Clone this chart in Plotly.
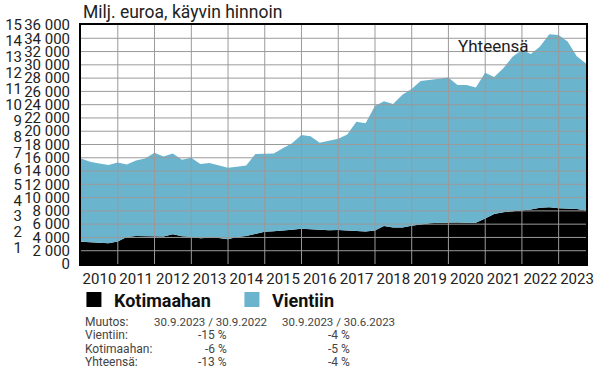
import plotly.graph_objects as go

# Quarter-end dates 31.12.2009 ... 30.9.2023
quarters = []
for yr in range(2009, 2024):
    for md in ["03-31", "06-30", "09-30", "12-31"]:
        d = f"{yr}-{md}"
        if "2009-12-31" <= d <= "2023-09-30":
            quarters.append(d)

kotimaahan = [3350, 3280, 3180, 3120, 3400, 4050, 4200, 4220, 4200, 4150,
              4500, 4180, 4120, 3880, 3950, 3900, 3720, 4050, 4200, 4550,
              4850, 4950, 5020, 5150, 5320, 5240, 5080, 5080, 5120, 5060,
              5020, 4900, 5050, 5720, 5480, 5500, 5750, 5950, 6120, 6230,
              6270, 6240, 6220, 6220, 6850, 7550, 7800, 7950, 8130, 8200,
              8480, 8550, 8400, 8350, 8300, 8050]
vientiin = [12550, 12120, 11970, 11780, 11900, 10950, 11400, 11680, 12550, 12050,
            12150, 11520, 11880, 11170, 11250, 11000, 10780, 10600, 10650, 12010,
            11800, 11700, 12430, 13020, 14110, 14010, 13170, 13420, 13730, 14440,
            16410, 16300, 18750, 18780, 18620, 20000, 20600, 21610, 21580, 21670,
            21830, 20720, 20740, 20380, 21950, 20600, 21700, 23270, 24100, 23430,
            24270, 26050, 26100, 25150, 23000, 22150]

y_ticks = list(range(0, 36001, 2000))
y_ticklabels = [f"{v:,}".replace(",", " ") for v in y_ticks]
index_ticks = list(range(1, 16))
grid_years = list(range(2011, 2024))

table_rows = ["Muutos:", "Vientiin:", "Kotimaahan:", "Yhteensä:"]
col_yoy = ["30.9.2023 / 30.9.2022", "-15 %", "-6 %", "-13 %"]
col_qoq = ["30.9.2023 / 30.6.2023", "-4 %", "-5 %", "-4 %"]

BLUE = "#6ab4ce"
FONT = "Roboto"

fig = go.Figure()
fig.add_trace(go.Scatter(x=quarters, y=kotimaahan, stackgroup="one", mode="lines",
                         line=dict(width=0, color="black"), fillcolor="black",
                         showlegend=False, hoverinfo="skip"))
fig.add_trace(go.Scatter(x=quarters, y=vientiin, stackgroup="one", mode="lines",
                         line=dict(width=0, color=BLUE), fillcolor=BLUE,
                         showlegend=False, hoverinfo="skip"))
# legend entries
fig.add_trace(go.Scatter(x=[None], y=[None], yaxis="y2", mode="markers", name="Kotimaahan",
                         marker=dict(symbol="square", size=15, color="black")))
fig.add_trace(go.Scatter(x=[None], y=[None], yaxis="y2", mode="markers", name="Vientiin",
                         marker=dict(symbol="square", size=15, color=BLUE)))

# gridlines above the areas
for yr in grid_years:
    fig.add_shape(type="line", xref="x", yref="paper", x0=f"{yr}-01-01", x1=f"{yr}-01-01",
                  y0=0, y1=1, line=dict(color="#9a9a9a", width=1), layer="above")
for v in y_ticks[1:-1]:
    fig.add_shape(type="line", xref="paper", yref="y", x0=0, x1=1, y0=v, y1=v,
                  line=dict(color="#9a9a9a", width=1), layer="above")

fig.update_layout(
    width=605, height=371,
    margin=dict(l=81, r=19, t=25, b=107),
    paper_bgcolor="white", plot_bgcolor="white",
    font=dict(family=FONT, color="#222"),
    showlegend=True,
    legend=dict(orientation="h", x=-0.014, xanchor="left", y=-0.15, yanchor="middle",
                traceorder="normal",
                font=dict(family=FONT, size=18, color="#111", weight="bold"),
                itemclick=False, bgcolor="rgba(0,0,0,0)", entrywidth=113),
    xaxis=dict(type="date", range=["2009-12-31", "2023-09-30"], dtick="M12",
               tick0="2010-01-01", ticklabelmode="period", tickformat="%Y",
               showgrid=False, showline=True, linecolor="black", linewidth=2,
               mirror=True, ticks="", tickfont=dict(size=15, family=FONT, color="#222"),
               automargin=False, fixedrange=True),
    yaxis=dict(range=[0, 36000], tickvals=y_ticks, ticktext=y_ticklabels,
               showgrid=False, showline=True, linecolor="black", linewidth=2,
               mirror=True, ticks="", ticklabelstandoff=6,
               tickfont=dict(size=15, family=FONT, color="#222"),
               automargin=False, fixedrange=True, zeroline=False),
    yaxis2=dict(overlaying="y", side="left", range=[0, 15], tickvals=index_ticks,
                showgrid=False, showline=False, ticks="", ticklabelstandoff=58,
                tickfont=dict(size=15, family=FONT, color="#222"),
                automargin=False, fixedrange=True, zeroline=False),
)

fig.add_annotation(text="Milj. euroa, käyvin hinnoin", xref="paper", yref="paper",
                   x=0, y=1, xanchor="left", yanchor="bottom", yshift=1, showarrow=False,
                   font=dict(size=17.5, family=FONT, color="#222"))
fig.add_annotation(text="Yhteensä", xref="x", yref="y", x="2021-03-26", y=32800,
                   showarrow=False, font=dict(size=17, family=FONT, color="#222"))

row_y0 = 321.5
row_dy = 13.6
for i, (lab, a, b) in enumerate(zip(table_rows, col_yoy, col_qoq)):
    yy = 1 - (row_y0 + i * row_dy - 25) / 239
    fig.add_annotation(text=lab, xref="paper", yref="paper", x=(83 - 81) / 505, y=yy,
                       xanchor="left", yanchor="middle", showarrow=False,
                       font=dict(size=12, family=FONT, color="#444"))
    if i == 0:
        fig.add_annotation(text=a, xref="paper", yref="paper", x=(211 - 81) / 505, y=yy,
                           xanchor="center", yanchor="middle", showarrow=False,
                           font=dict(size=11.5, family=FONT, color="#444"))
        fig.add_annotation(text=b, xref="paper", yref="paper", x=(338 - 81) / 505, y=yy,
                           xanchor="center", yanchor="middle", showarrow=False,
                           font=dict(size=11.5, family=FONT, color="#444"))
    else:
        fig.add_annotation(text=a, xref="paper", yref="paper", x=(229 - 81) / 505, y=yy,
                           xanchor="right", yanchor="middle", showarrow=False,
                           font=dict(size=12, family=FONT, color="#444"))
        fig.add_annotation(text=b, xref="paper", yref="paper", x=(352 - 81) / 505, y=yy,
                           xanchor="right", yanchor="middle", showarrow=False,
                           font=dict(size=12, family=FONT, color="#444"))

fig.write_html("out.html", config={"displayModeBar": False},
               post_script="document.body.style.margin='0';")
